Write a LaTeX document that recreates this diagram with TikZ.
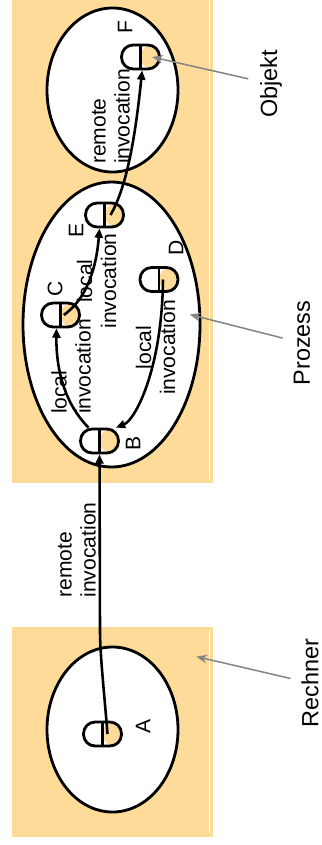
\documentclass[tikz,border=0pt]{standalone}
\usepackage{fontspec}
\setmainfont{Liberation Sans}
\usetikzlibrary{arrows.meta, shapes.geometric}
\definecolor{cpeach}{HTML}{FFDB99}
\definecolor{cgrey}{HTML}{858585}
\tikzset{
  every picture/.style={line width=2.4pt},
  host/.style={fill=cpeach, minimum width=60.3mm, minimum height=#1, inner sep=0pt,
    path picture={\draw[white, line width=0.7pt]
      ([xshift=-1.1mm, yshift=-1mm]path picture bounding box.north east) --
      ([xshift=-1.1mm, yshift=1.2mm]path picture bounding box.south east);}},
  space/.style={ellipse, draw, fill=white, inner sep=0pt},
  obj/.style={draw, fill=white, rounded corners=3.5mm, minimum width=11.4mm, minimum height=7.2mm, inner sep=0pt,
    path picture={\fill[cpeach] (path picture bounding box.south) rectangle (path picture bounding box.north east);
      \draw[line width=2pt] (path picture bounding box.south) -- (path picture bounding box.north);}},
  call/.style={-{Triangle[length=2.8mm, width=2.4mm]}, line width=2.2pt},
  pointer/.style={-{Stealth[length=3.2mm, width=2.6mm]}, draw=cgrey, line width=1.3pt, shorten <=#1},
  pointer/.default=6mm,
  tag/.style={rotate=90, font=\fontsize{18}{20.5}\selectfont, inner sep=0pt},
  side/.style={rotate=90, font=\fontsize{20}{24}\selectfont, inner sep=0pt},
}

\begin{document}
\begin{tikzpicture}[x=0.3mm, y=-0.3mm]
  \useasboundingbox (0,0) rectangle (322,845);
  % two machines
  \node[host=147.9mm] (rechner2) at (112.5,236.5) {};
  \node[host=63mm] (rechner1) at (112.5,732) {};
  % processes
  \node[space, minimum width=39.3mm, minimum height=49.2mm] (prozess3) at (112.5,90) {};
  \node[space, minimum width=53.1mm, minimum height=85.5mm] (prozess2) at (111.5,324.5) {};
  \node[space, minimum width=39.3mm, minimum height=49.5mm] (prozess1) at (112.5,729.5) {};
  % objects
  \node[obj] (objF) at (140.5,57) {};
  \node[obj] (objE) at (104.5,215) {};
  \node[obj] (objD) at (159,279.5) {};
  \node[obj] (objC) at (60.5,315) {};
  \node[obj] (objB) at (99.5,441) {};
  \node[obj] (objA) at (102.5,734) {};
  \node[tag] (lblF) at (125,27) {F};
  \node[tag] (lblE) at (76,230) {E};
  \node[tag] (lblD) at (176,248) {D};
  \node[tag] (lblC) at (55,289) {C};
  \node[tag] (lblB) at (133,443) {B};
  \node[tag] (lblA) at (143,726) {A};
  % invocations
  \draw[call] ([xshift=1.5mm]objA.center) .. controls (104,690) and (100,655) .. (100,630) -- (objB.south);
  \draw[call] ([xshift=-3.3mm]objB.north) .. controls (66,405) and (56,372) .. ([xshift=-1.2mm]objC.south);
  \draw[call] ([xshift=1mm]objC.center) .. controls (85,300) and (96,272) .. ([xshift=-1.5mm]objE.south);
  \draw[call] ([xshift=1.2mm]objD.center) .. controls (162,370) and (135,420) .. ([xshift=-1.2mm]objB.north east);
  \draw[call] ([xshift=1.8mm]objE.center) .. controls (128,185) and (136,130) .. ([xshift=0.5mm]objF.south);
  \node[tag, align=left] (inv1) at (77,550) {remote\\invocation};
  \node[tag, align=left] (inv2) at (71,366.5) {local\\invocation};
  \node[tag, align=center] (inv3) at (155.5,347.5) {local\\invocation};
  \node[tag, align=center] (inv4) at (96.5,281) {local\\invocation};
  \node[tag, align=left] (inv5) at (111,116.5) {remote\\invocation};
  % legend
  \node[side] (txtObjekt) at (271,84) {Objekt};
  \node[side] (txtProzess) at (302,343) {Prozess};
  \node[side] (txtRechner) at (310,683) {Rechner};
  \draw[pointer=7mm] (txtObjekt.center) -- ([xshift=3.5mm]objF.center);
  \draw[pointer] (txtProzess.center) -- ([xshift=-3.5mm, yshift=3mm]prozess2.east);
  \draw[pointer] (txtRechner.center) -- ([xshift=-5.4mm, yshift=-9.3mm]rechner1.north east);
\end{tikzpicture}
\end{document}
